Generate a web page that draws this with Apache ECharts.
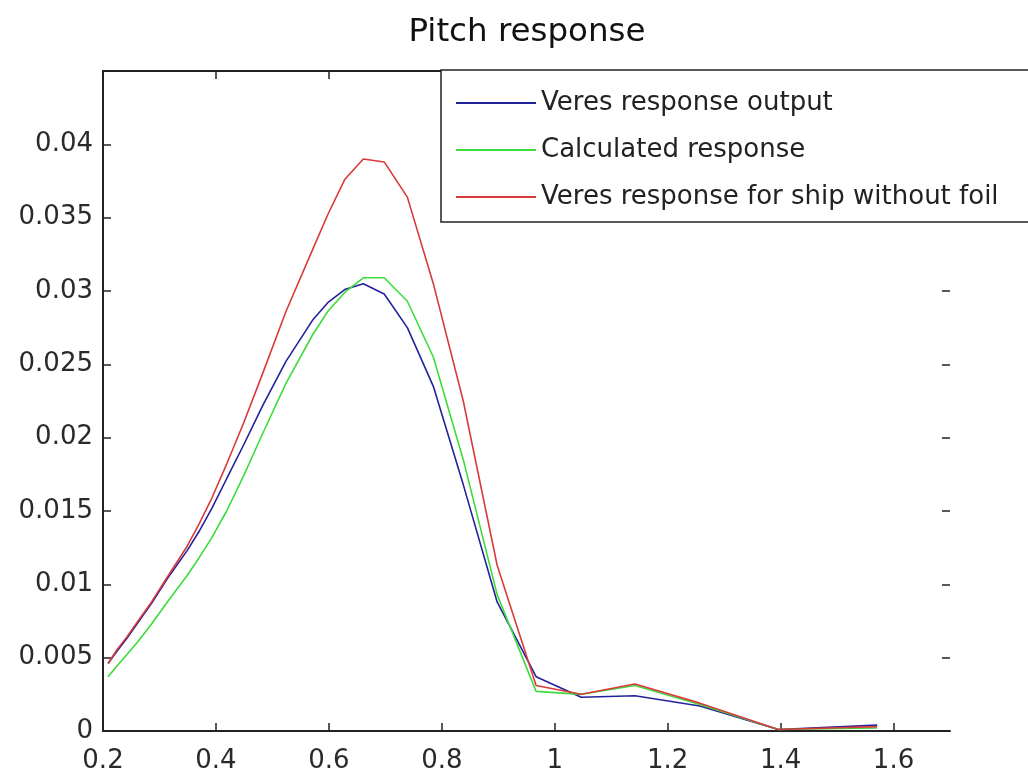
<!DOCTYPE html>
<html>
<head>
<meta charset="utf-8">
<title>Pitch response</title>
<script src="https://cdn.jsdelivr.net/npm/echarts@6/dist/echarts.min.js"></script>
<style>
  html, body { margin: 0; padding: 0; background: #fff; }
  #chart { width: 1028px; height: 774px; }
</style>
</head>
<body>
<div id="chart"></div>
<script>
// Wave frequency (rad/s) at which the responses were evaluated
const omega = [0.209, 0.224, 0.242, 0.262, 0.286, 0.314, 0.349, 0.370, 0.393, 0.419,
               0.449, 0.483, 0.524, 0.571, 0.598, 0.628, 0.661, 0.698, 0.739, 0.785,
               0.838, 0.898, 0.967, 1.047, 1.142, 1.257, 1.396, 1.571];

// Pitch response amplitudes
const veresOutput = [0.0046, 0.0054, 0.0063, 0.0074, 0.0087, 0.0104, 0.0123, 0.0136, 0.0152, 0.0172,
                     0.0195, 0.0222, 0.0252, 0.0280, 0.0292, 0.0301, 0.0305, 0.0298, 0.0275, 0.0235,
                     0.0168, 0.0088, 0.0037, 0.0023, 0.0024, 0.0017, 0.0001, 0.0004];
const calculated  = [0.0037, 0.0044, 0.0052, 0.0061, 0.0073, 0.0088, 0.0106, 0.0118, 0.0132, 0.0150,
                     0.0174, 0.0203, 0.0237, 0.0270, 0.0286, 0.0299, 0.0309, 0.0309, 0.0293, 0.0255,
                     0.0185, 0.0093, 0.0027, 0.0025, 0.0031, 0.0018, 0.0001, 0.0002];
const withoutFoil = [0.0046, 0.0055, 0.0064, 0.0075, 0.0088, 0.0105, 0.0126, 0.0141, 0.0159, 0.0182,
                     0.0210, 0.0244, 0.0286, 0.0328, 0.0352, 0.0376, 0.0390, 0.0388, 0.0364, 0.0305,
                     0.0225, 0.0113, 0.0031, 0.0025, 0.0032, 0.0019, 0.0001, 0.0003];

const seriesNames = ['Veres response output', 'Calculated response', 'Veres response for ship without foil'];
const seriesColors = ['#22229c', '#3ddc3d', '#d83a3a'];

// Axis ticks
const xTicks = [0.2, 0.4, 0.6, 0.8, 1, 1.2, 1.4, 1.6];
const yTicks = [0, 0.005, 0.01, 0.015, 0.02, 0.025, 0.03, 0.035, 0.04];

const FONT = 'DejaVu Sans';
const INK = '#222';

function pairs(ys) { return omega.map((x, i) => [x, ys[i]]); }

const chart = echarts.init(document.getElementById('chart'), null, { renderer: 'canvas' });

const tickStyle = { show: true, inside: true, length: 8, lineStyle: { color: INK, width: 1.5 } };

chart.setOption({
  backgroundColor: '#fff',
  animation: false,
  title: {
    text: 'Pitch response',
    left: 522, top: 11, textAlign: 'center',
    textStyle: { fontFamily: FONT, fontSize: 32.5, fontWeight: 'normal', color: '#111' }
  },
  grid: { left: 103, top: 71, width: 847, height: 660, containLabel: false },
  legend: {
    orient: 'vertical',
    left: 441, top: 70,
    padding: [18, 60, 10, 14],
    itemWidth: 80, itemHeight: 14, itemGap: 17,
    backgroundColor: '#fff',
    borderColor: INK, borderWidth: 1.5, borderRadius: 0,
    // line-only keys: hide the marker drawn in the middle of each key line
    itemStyle: { opacity: 0 },
    textStyle: { fontFamily: FONT, fontSize: 26, color: '#222', lineHeight: 30 },
    data: seriesNames
  },
  xAxis: [
    {
      type: 'value', min: 0.2, max: 1.7, position: 'bottom',
      splitLine: { show: false },
      axisLine: { show: true, onZero: false, lineStyle: { color: INK, width: 2 } },
      axisTick: Object.assign({ customValues: xTicks }, tickStyle),
      axisLabel: { customValues: xTicks, margin: 17, fontFamily: FONT, fontSize: 26, color: '#2a2a2a' }
    },
    {
      type: 'value', min: 0.2, max: 1.7, position: 'top',
      splitLine: { show: false },
      axisLine: { show: true, onZero: false, lineStyle: { color: INK, width: 2 } },
      axisTick: Object.assign({ customValues: xTicks }, tickStyle),
      axisLabel: { show: false }
    }
  ],
  yAxis: [
    {
      type: 'value', min: 0, max: 0.045, position: 'left',
      splitLine: { show: false },
      axisLine: { show: true, onZero: false, lineStyle: { color: INK, width: 2 } },
      axisTick: Object.assign({ customValues: yTicks }, tickStyle),
      axisLabel: { customValues: yTicks, margin: 10, fontFamily: FONT, fontSize: 26, color: '#2a2a2a' }
    },
    {
      type: 'value', min: 0, max: 0.045, position: 'right',
      splitLine: { show: false },
      axisLine: { show: false },
      axisTick: Object.assign({ customValues: yTicks }, tickStyle),
      axisLabel: { show: false }
    }
  ],
  series: [veresOutput, calculated, withoutFoil].map((ys, i) => ({
    name: seriesNames[i],
    type: 'line',
    xAxisIndex: 0, yAxisIndex: 0,
    data: pairs(ys),
    symbol: 'none',
    smooth: false,
    color: seriesColors[i],
    lineStyle: { color: seriesColors[i], width: 1.6 },
    z: 2 + i
  }))
});
</script>
</body>
</html>
